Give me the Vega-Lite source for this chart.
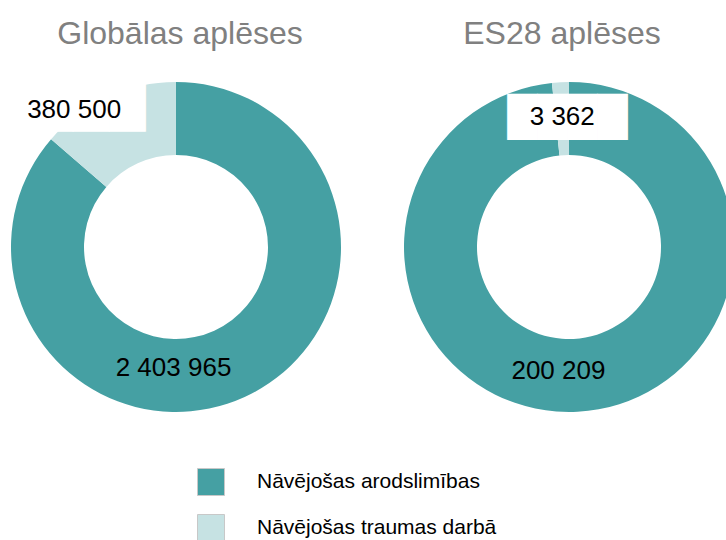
{
  "$schema": "https://vega.github.io/schema/vega-lite/v6.json",
  "width": 726,
  "height": 540,
  "autosize": {"type": "none"},
  "padding": 0,
  "background": "white",
  "config": {
    "view": {"stroke": null},
    "font": "Liberation Sans",
    "locale": {"number": {"decimal": ",", "thousands": " ", "grouping": [3], "currency": ["", " €"]}},
    "legend": {
      "orient": "none",
      "legendX": 197,
      "legendY": 468,
      "padding": 0,
      "symbolType": "square",
      "symbolSize": 729,
      "symbolStrokeColor": "#c8c8c8",
      "symbolStrokeWidth": 1,
      "symbolOpacity": 1,
      "labelFontSize": 21,
      "labelFont": "Liberation Sans",
      "labelColor": "#000000",
      "labelOffset": 32,
      "labelLimit": 400,
      "rowPadding": 14,
      "title": null
    }
  },
  "data": {
    "values": [
      {"chart": "Globālas aplēses", "category": "Nāvējošas arodslimības", "value": 2403965},
      {"chart": "Globālas aplēses", "category": "Nāvējošas traumas darbā", "value": 380500},
      {"chart": "ES28 aplēses", "category": "Nāvējošas arodslimības", "value": 200209},
      {"chart": "ES28 aplēses", "category": "Nāvējošas traumas darbā", "value": 3362}
    ]
  },
  "resolve": {"scale": {"x": "independent", "y": "independent"}},
  "layer": [
    {
      "transform": [{"filter": "datum.chart == 'Globālas aplēses'"}],
      "encoding": {
        "x": {"field": "chart", "type": "nominal", "axis": null, "scale": {"type": "point", "padding": 0, "domain": ["Globālas aplēses", "ES28 aplēses"], "range": [176, 569]}},
        "y": {"field": "chart", "type": "nominal", "axis": null, "scale": {"type": "point", "padding": 0, "domain": ["Globālas aplēses", "ES28 aplēses"], "range": [247, 247]}},
        "theta": {"field": "value", "type": "quantitative", "stack": "normalize", "scale": {"domain": [0, 1]}},
        "order": {"field": "value", "type": "quantitative", "sort": "descending"},
        "detail": {"field": "category"}
      },
      "layer": [
        {
          "mark": {"type": "arc", "radius": 165, "radius2": 92},
          "encoding": {
            "color": {"field": "category", "type": "nominal", "scale": {"domain": ["Nāvējošas arodslimības", "Nāvējošas traumas darbā"], "range": ["#45a0a3", "#c6e2e3"]}, "legend": {}}
          }
        },
        {
          "mark": {"type": "text", "radius": 133, "align": "right", "fontSize": 26, "color": "#000000"},
          "encoding": {
            "text": {"field": "value", "type": "quantitative", "format": ",d"},
            "opacity": {"condition": {"test": "datum.category == 'Nāvējošas arodslimības'", "value": 1}, "value": 0}
          }
        },
        {
          "mark": {"type": "text", "radius": 151, "align": "right", "dx": 32, "dy": -4, "font": "DejaVu Sans", "fontSize": 47, "color": "#ffffff", "text": "████"},
          "encoding": {
            "opacity": {"condition": {"test": "datum.category == 'Nāvējošas traumas darbā'", "value": 1}, "value": 0}
          }
        },
        {
          "mark": {"type": "text", "radius": 151, "align": "right", "dx": 8, "fontSize": 26, "color": "#000000"},
          "encoding": {
            "text": {"field": "value", "type": "quantitative", "format": ",d"},
            "opacity": {"condition": {"test": "datum.category == 'Nāvējošas traumas darbā'", "value": 1}, "value": 0}
          }
        }
      ]
    },
    {
      "transform": [{"filter": "datum.chart == 'ES28 aplēses'"}],
      "encoding": {
        "x": {"field": "chart", "type": "nominal", "axis": null, "scale": {"type": "point", "padding": 0, "domain": ["Globālas aplēses", "ES28 aplēses"], "range": [176, 569]}},
        "y": {"field": "chart", "type": "nominal", "axis": null, "scale": {"type": "point", "padding": 0, "domain": ["Globālas aplēses", "ES28 aplēses"], "range": [247, 247]}},
        "theta": {"field": "value", "type": "quantitative", "stack": "normalize", "scale": {"domain": [0, 1]}},
        "order": {"field": "value", "type": "quantitative", "sort": "descending"},
        "detail": {"field": "category"}
      },
      "layer": [
        {
          "mark": {"type": "arc", "radius": 165, "radius2": 92},
          "encoding": {
            "color": {"field": "category", "type": "nominal", "scale": {"domain": ["Nāvējošas arodslimības", "Nāvējošas traumas darbā"], "range": ["#45a0a3", "#c6e2e3"]}}
          }
        },
        {
          "mark": {"type": "text", "radius": 124, "align": "center", "dx": -17, "fontSize": 26, "color": "#000000"},
          "encoding": {
            "text": {"field": "value", "type": "quantitative", "format": ",d"},
            "opacity": {"condition": {"test": "datum.category == 'Nāvējošas arodslimības'", "value": 1}, "value": 0}
          }
        },
        {
          "mark": {"type": "text", "radius": 130, "align": "center", "dx": 5, "dy": 1, "font": "DejaVu Sans", "fontSize": 39, "color": "#ffffff", "text": "████"},
          "encoding": {
            "opacity": {"condition": {"test": "datum.category == 'Nāvējošas traumas darbā'", "value": 1}, "value": 0}
          }
        },
        {
          "mark": {"type": "text", "radius": 130, "align": "center", "fontSize": 26, "color": "#000000"},
          "encoding": {
            "text": {"field": "value", "type": "quantitative", "format": ",d"},
            "opacity": {"condition": {"test": "datum.category == 'Nāvējošas traumas darbā'", "value": 1}, "value": 0}
          }
        }
      ]
    },
    {
      "transform": [{"filter": "datum.category == 'Nāvējošas arodslimības'"}],
      "mark": {"type": "text", "fontSize": 32, "color": "#808080", "baseline": "alphabetic", "align": "center"},
      "encoding": {
        "x": {"field": "chart", "type": "nominal", "axis": null, "scale": {"type": "point", "padding": 0, "domain": ["Globālas aplēses", "ES28 aplēses"], "range": [180, 562]}},
        "y": {"field": "chart", "type": "nominal", "axis": null, "scale": {"type": "point", "padding": 0, "domain": ["Globālas aplēses", "ES28 aplēses"], "range": [44, 44]}},
        "text": {"field": "chart", "type": "nominal"}
      }
    }
  ]
}
